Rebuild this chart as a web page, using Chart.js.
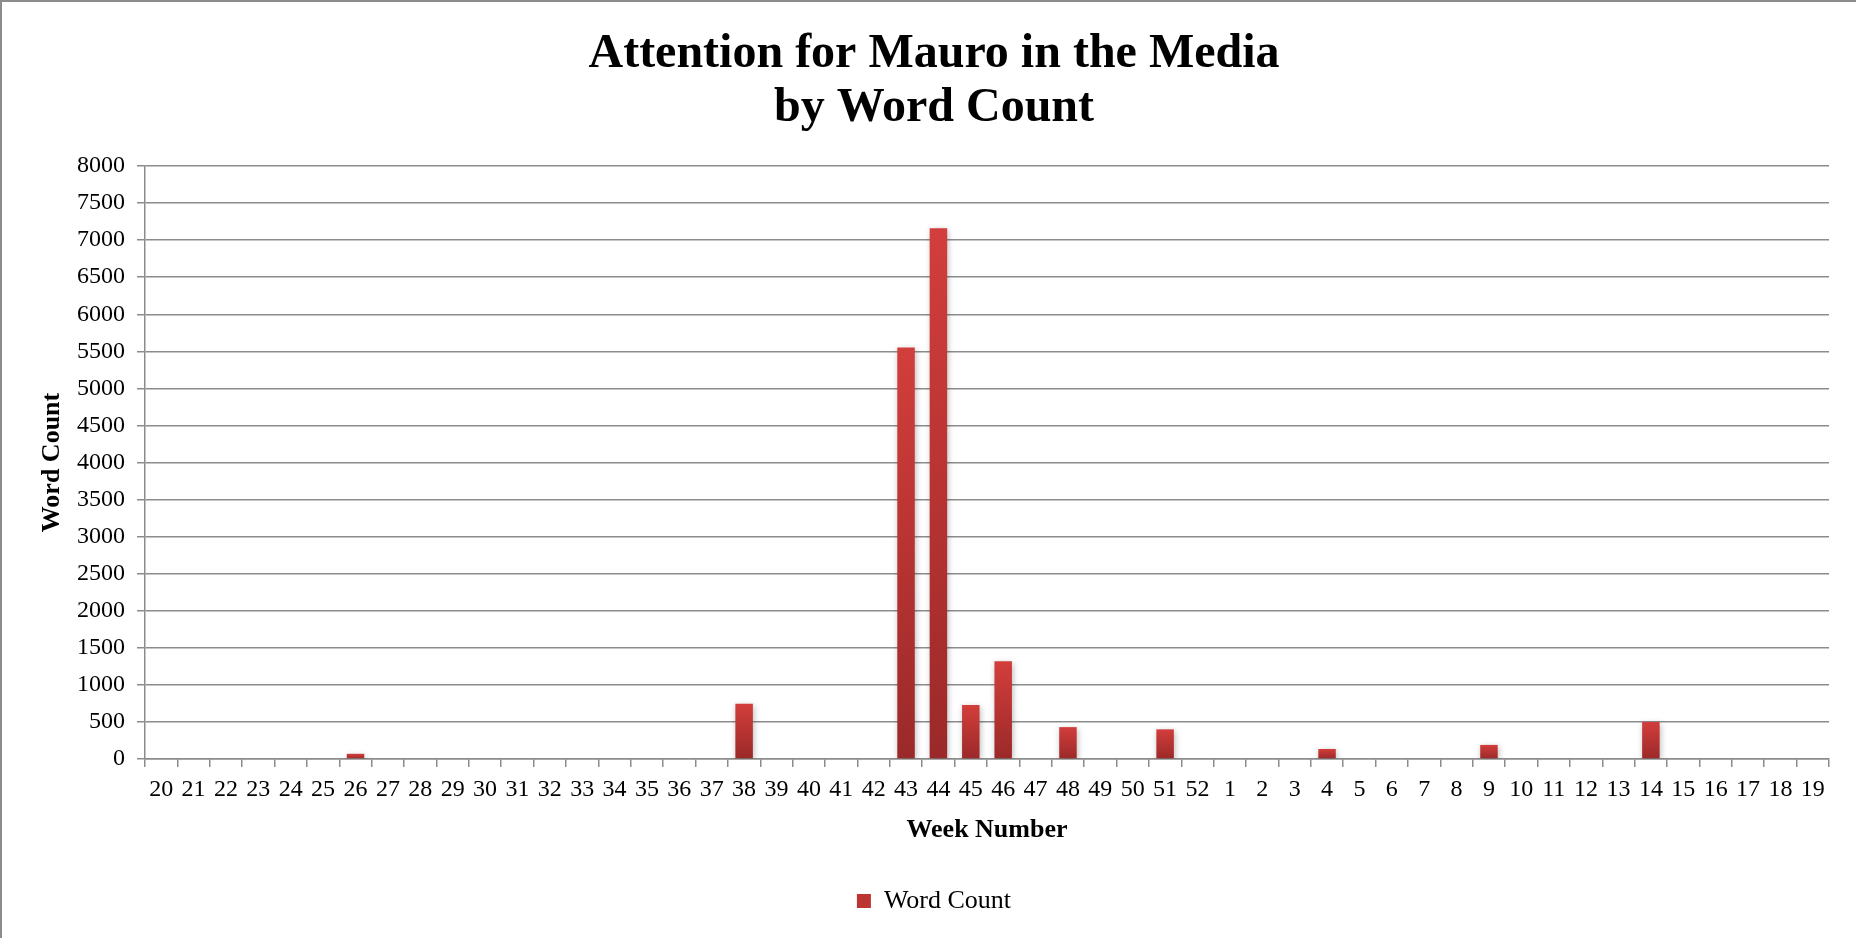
<!DOCTYPE html>
<html lang="en">
<head>
    <meta charset="UTF-8">
    <title>Attention for Mauro in the Media</title>
    <script src="https://cdn.jsdelivr.net/npm/chart.js"></script>
    <style>
        html, body {
            margin: 0;
            padding: 0;
            background: #fff;
        }

        .chart-box {
            width: 1856px;
            height: 938px;
            box-sizing: border-box;
            border-top: 2px solid #8c8c8c;
            border-left: 2px solid #8c8c8c;
        }
    </style>
</head>
<body>
    <div class="chart-box">
        <canvas id="wordChart"></canvas>
    </div>

    <script>
        // week numbers, school year running from week 20 to week 19
        const weeks = [
            '20', '21', '22', '23', '24', '25', '26', '27', '28', '29', '30', '31', '32',
            '33', '34', '35', '36', '37', '38', '39', '40', '41', '42', '43', '44', '45',
            '46', '47', '48', '49', '50', '51', '52', '1', '2', '3', '4', '5', '6', '7',
            '8', '9', '10', '11', '12', '13', '14', '15', '16', '17', '18', '19'
        ];

        // word count per week (same order as weeks)
        const wordCount = [
            0, 0, 0, 0, 0, 0, 70, 0, 0, 0, 0, 0, 0,
            0, 0, 0, 0, 0, 745, 0, 0, 0, 0, 5550, 7160, 730,
            1320, 0, 430, 0, 0, 400, 0, 0, 0, 0, 135, 0, 0, 0,
            0, 190, 0, 0, 0, 0, 500, 0, 0, 0, 0, 0
        ];

        const yMax = 8000;
        const yStep = 500;

        const serif = '"Liberation Serif", "Times New Roman", serif';

        // each bar gets its own top-to-bottom gradient
        function barFill(ctx) {
            const chart = ctx.chart;
            if (!chart.chartArea || ctx.type !== 'data') return '#bd3533';
            const y = chart.scales.y;
            const top = y.getPixelForValue(ctx.raw);
            const bottom = y.getPixelForValue(0);
            if (!isFinite(top) || bottom - top < 1) return '#bd3533';
            const g = chart.ctx.createLinearGradient(0, top, 0, bottom);
            g.addColorStop(0, '#d23e3b');
            g.addColorStop(1, '#9b2929');
            return g;
        }

        // soft shadow behind the bars
        const barShadow = {
            id: 'barShadow',
            beforeDatasetsDraw(chart) {
                const c = chart.ctx;
                c.save();
                c.shadowColor = 'rgba(0, 0, 0, 0.28)';
                c.shadowBlur = 6;
                c.shadowOffsetX = 1;
                c.shadowOffsetY = 2;
            },
            afterDatasetsDraw(chart) {
                chart.ctx.restore();
            }
        };

        new Chart(document.getElementById('wordChart'), {
            type: 'bar',
            data: {
                labels: weeks,
                datasets: [{
                    label: 'Word Count',
                    data: wordCount,
                    backgroundColor: barFill,
                    borderWidth: 0,
                    barPercentage: 0.54,
                    categoryPercentage: 1
                }]
            },
            plugins: [barShadow],
            options: {
                responsive: true,
                maintainAspectRatio: false,
                animation: false,
                layout: {
                    padding: { left: 37, right: 27, top: 0, bottom: 14 }
                },
                plugins: {
                    title: {
                        display: true,
                        text: ['Attention for Mauro in the Media', 'by Word Count'],
                        color: '#000',
                        font: { family: serif, size: 48, weight: 'bold', lineHeight: 1.125 },
                        padding: { top: 26, bottom: 30 }
                    },
                    legend: {
                        position: 'bottom',
                        labels: {
                            color: '#000',
                            font: { family: serif, size: 26 },
                            boxWidth: 14,
                            boxHeight: 14,
                            padding: 10
                        }
                    },
                    tooltip: { enabled: false }
                },
                scales: {
                    x: {
                        grid: {
                            offset: true,
                            drawOnChartArea: false,
                            drawTicks: true,
                            tickLength: 8,
                            color: '#8c8c8c',
                            lineWidth: 1.5
                        },
                        border: { color: '#8c8c8c', width: 1.5 },
                        ticks: {
                            color: '#000',
                            font: { family: serif, size: 24 },
                            autoSkip: false,
                            maxRotation: 0,
                            minRotation: 0,
                            padding: 8
                        },
                        title: {
                            display: true,
                            text: 'Week Number',
                            color: '#000',
                            font: { family: serif, size: 26, weight: 'bold' },
                            padding: { top: 3, bottom: 32 }
                        }
                    },
                    y: {
                        min: 0,
                        max: yMax,
                        grid: {
                            color: '#8c8c8c',
                            lineWidth: 1.5,
                            tickLength: 8
                        },
                        border: { color: '#8c8c8c', width: 1.5 },
                        ticks: {
                            stepSize: yStep,
                            color: '#000',
                            font: { family: serif, size: 24 },
                            padding: 12,
                            callback: v => String(v)
                        },
                        title: {
                            display: true,
                            text: 'Word Count',
                            color: '#000',
                            font: { family: serif, size: 26, weight: 'bold', lineHeight: 1 },
                            padding: { top: 0, bottom: 0 }
                        }
                    }
                }
            }
        });
    </script>
</body>
</html>
